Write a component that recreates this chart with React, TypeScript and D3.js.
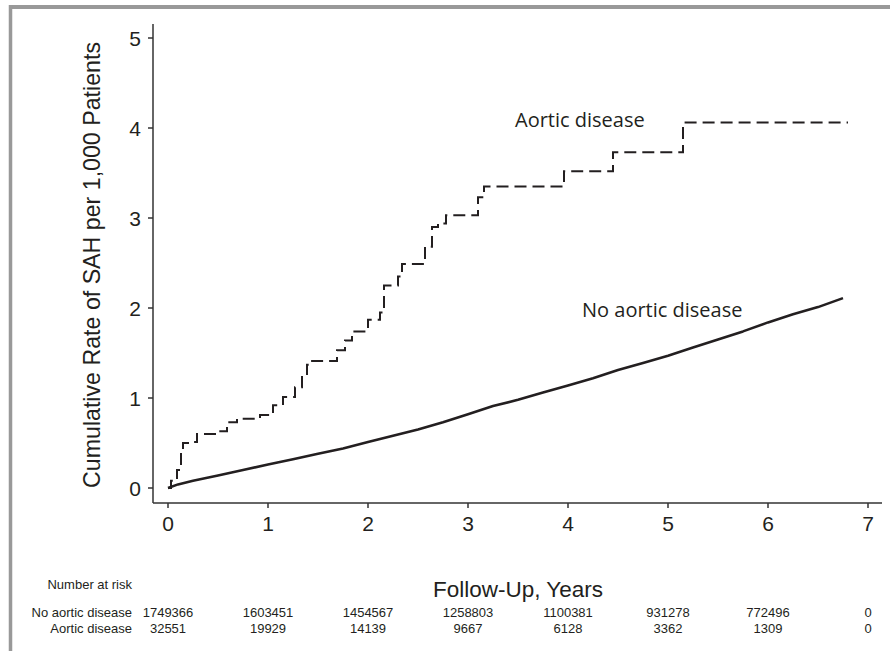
import React from 'react';
import * as d3 from 'd3';

// cumulative rate per 1,000, aortic disease (step function)
const aorticTimes = [0, 0.03, 0.09, 0.13, 0.15, 0.22, 0.29, 0.5, 0.59, 0.69, 0.92, 1.05, 1.15, 1.27, 1.34, 1.39, 1.42, 1.69, 1.77, 1.84, 2.0, 2.12, 2.16, 2.3, 2.34, 2.57, 2.64, 2.7, 2.78, 3.1, 3.16, 3.96, 4.45, 5.15, 6.8];
const aorticRates = [0, 0.08, 0.2, 0.42, 0.5, 0.51, 0.6, 0.63, 0.73, 0.77, 0.81, 0.92, 1.01, 1.12, 1.25, 1.37, 1.41, 1.53, 1.64, 1.74, 1.87, 1.95, 2.25, 2.35, 2.49, 2.68, 2.9, 2.94, 3.03, 3.23, 3.35, 3.52, 3.73, 4.06, 4.06];

// no aortic disease
const noAorticTimes = [0, 0.1, 0.25, 0.5, 0.75, 1.0, 1.25, 1.5, 1.75, 2.0, 2.25, 2.5, 2.75, 3.0, 3.25, 3.5, 3.75, 4.0, 4.25, 4.5, 4.75, 5.0, 5.25, 5.5, 5.75, 6.0, 6.25, 6.5, 6.75];
const noAorticRates = [0, 0.04, 0.08, 0.14, 0.2, 0.26, 0.32, 0.38, 0.44, 0.51, 0.58, 0.65, 0.73, 0.82, 0.91, 0.98, 1.06, 1.14, 1.22, 1.31, 1.39, 1.47, 1.56, 1.65, 1.74, 1.84, 1.93, 2.01, 2.11];

const riskYears = [0, 1, 2, 3, 4, 5, 6, 7];
const riskNoAortic = ['1749366', '1603451', '1454567', '1258803', '1100381', '931278', '772496', '0'];
const riskAortic = ['32551', '19929', '14139', '9667', '6128', '3362', '1309', '0'];

const ink = '#231f20';
const arial = '"Liberation Sans", Arial, sans-serif';

export default function App() {
  const width = 890;
  const height = 651;

  const x = d3.scaleLinear().domain([0, 7]).range([168, 868]);
  const y = d3.scaleLinear().domain([0, 5]).range([488, 38]);
  const axisX = 153;
  const axisY = 503;

  const aortic = aorticTimes.map((t, i) => [t, aorticRates[i]] as [number, number]);
  const noAortic = noAorticTimes.map((t, i) => [t, noAorticRates[i]] as [number, number]);

  const stepLine = d3.line<[number, number]>()
    .x(d => x(d[0]))
    .y(d => y(d[1]))
    .curve(d3.curveStepAfter);
  const smoothLine = d3.line<[number, number]>()
    .x(d => x(d[0]))
    .y(d => y(d[1]));

  return (
    <svg width={width} height={height} style={{ position: 'absolute', left: 0, top: 0, background: '#fff' }}>
      {/* frame (top and left edges visible) */}
      <line x1={9} x2={width} y1={7} y2={7} stroke="#999" strokeWidth={4} />
      <line x1={10.5} x2={10.5} y1={5} y2={height} stroke="#999" strokeWidth={3.5} />

      {/* axes */}
      <line x1={axisX} x2={axisX} y1={24} y2={axisY} stroke="#333" strokeWidth={1.5} />
      <line x1={axisX} x2={882} y1={axisY} y2={axisY} stroke="#333" strokeWidth={1.5} />
      {y.ticks(5).map(t => (
        <g key={'y' + t}>
          <line x1={axisX - 5} x2={axisX} y1={y(t)} y2={y(t)} stroke="#333" strokeWidth={1.5} />
          <text x={141} y={y(t)} dy="0.36em" textAnchor="end" fontFamily={arial} fontSize={21} fill={ink}>{t}</text>
        </g>
      ))}
      {x.ticks(7).map(t => (
        <g key={'x' + t}>
          <line x1={x(t)} x2={x(t)} y1={axisY} y2={axisY + 5} stroke="#333" strokeWidth={1.5} />
          <text x={x(t)} y={531} textAnchor="middle" fontFamily={arial} fontSize={21} fill={ink}>{t}</text>
        </g>
      ))}

      <text transform={`translate(100,${y(2.5) + 2}) rotate(-90)`} textAnchor="middle" fontFamily={arial} fontSize={23.2} fill={ink}>
        Cumulative Rate of SAH per 1,000 Patients
      </text>
      <text x={x(3.5)} y={597} textAnchor="middle" fontFamily={arial} fontSize={22.5} fill={ink}>Follow-Up, Years</text>

      {/* curves */}
      <path d={smoothLine(noAortic) || ''} fill="none" stroke={ink} strokeWidth={2.6} strokeLinejoin="round" />
      <path d={stepLine(aortic) || ''} fill="none" stroke={ink} strokeWidth={2} strokeDasharray="12,6" />

      <text x={515} y={127} fontFamily='"Open Sans", sans-serif' fontSize={20} fill={ink}>Aortic disease</text>
      <text x={582} y={317} fontFamily='"Open Sans", sans-serif' fontSize={20} fill={ink}>No aortic disease</text>

      {/* number at risk */}
      <text x={132} y={589} textAnchor="end" fontFamily={arial} fontSize={13} fill={ink}>Number at risk</text>
      <text x={132} y={617} textAnchor="end" fontFamily={arial} fontSize={13} fill={ink}>No aortic disease</text>
      <text x={132} y={633} textAnchor="end" fontFamily={arial} fontSize={13} fill={ink}>Aortic disease</text>
      {riskYears.map((yr, i) => (
        <g key={'r' + yr}>
          <text x={x(yr)} y={617} textAnchor="middle" fontFamily={arial} fontSize={13} fill={ink}>{riskNoAortic[i]}</text>
          <text x={x(yr)} y={633} textAnchor="middle" fontFamily={arial} fontSize={13} fill={ink}>{riskAortic[i]}</text>
        </g>
      ))}
    </svg>
  );
}
